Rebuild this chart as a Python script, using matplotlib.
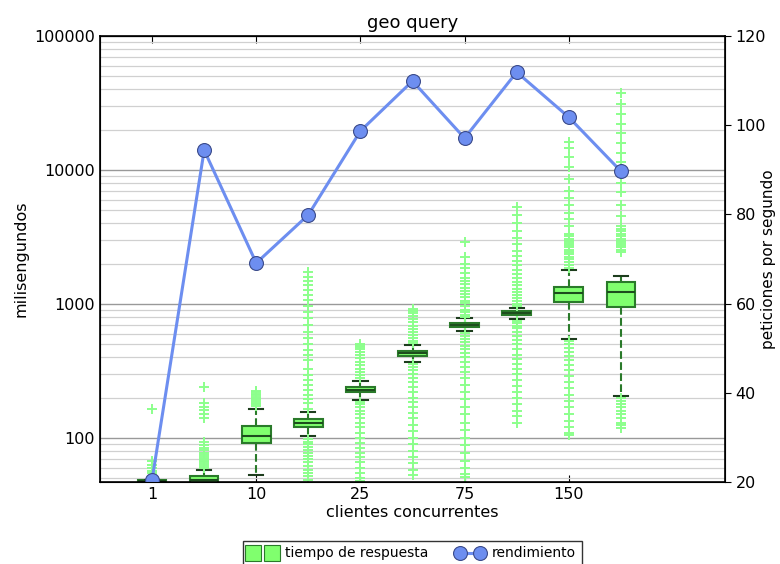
"""geo query: response-time boxplots (log scale) with throughput on a twin axis."""

import matplotlib
matplotlib.use("Agg")
import matplotlib.pyplot as plt
from matplotlib.lines import Line2D

# ── data ──
clients = ["1", "10", "25", "75", "150"]
label_positions = [1, 3, 5, 7, 9]

# box statistics (ms): q1, median, q3, lower whisker, upper whisker
q1 = [46.5, 46, 92, 121.5, 219, 411, 677, 828, 1031, 955]
medians = [47.5, 49, 103.5, 130, 230, 428, 700, 855, 1214, 1236]
q3 = [48.5, 52, 123, 138, 241, 446, 718, 887, 1334, 1466]
whis_lo = [46, 45, 53, 103.5, 192, 369, 629, 769, 546, 207]
whis_hi = [49, 57.7, 164, 157, 266, 494, 781, 937, 1795, 1626]

fliers = [
    [52, 55, 57, 60, 63, 67, 164],
    [60, 62, 64, 66, 68, 70, 72, 75, 78, 81, 85, 89, 93, 140, 150, 162, 170, 182, 240],
    [172, 178, 184, 190, 196, 202, 208, 214, 220, 226],
    [165, 182, 196, 210, 228, 249, 270, 295, 330, 382, 420, 454, 500, 557, 620, 697,
     780, 872, 960, 1069, 1170, 1274, 1380, 1484, 1600, 1742,
     98, 94, 90, 86, 82, 78, 74, 70, 66, 62, 58, 55, 52, 49],
    [280, 295, 310, 330, 350, 370, 395, 420, 440, 460, 475, 490, 505,
     185, 178, 170, 160, 150, 140, 130, 120, 110, 100, 92, 85, 78, 72, 66, 60, 55, 50, 48],
    [510, 530, 560, 590, 620, 650, 690, 730, 770, 810, 850, 890, 920,
     355, 340, 320, 300, 280, 260, 240, 220, 200, 185, 170, 155, 140, 125, 112, 100,
     90, 80, 72, 65, 58, 53],
    [800, 830, 870, 910, 960, 1010, 1060, 1120, 1180, 1250, 1320, 1400, 1480, 1560,
     1700, 1850, 2000, 2250, 2900,
     610, 580, 550, 520, 490, 460, 430, 400, 370, 340, 310, 280, 250, 220, 195, 170,
     150, 130, 115, 100, 88, 78, 68, 60, 54, 51],
    [960, 1000, 1050, 1100, 1160, 1220, 1300, 1380, 1470, 1560, 1680, 1800, 1950, 2100,
     2300, 2500, 2800, 3100, 3500, 4000, 4600, 5300,
     750, 720, 690, 660, 620, 580, 540, 500, 460, 420, 390, 360, 330, 300, 270, 245,
     220, 200, 180, 160, 145, 130],
    [1850, 1950, 2050, 2150, 2250, 2350, 2450, 2550, 2650, 2750, 2850, 2950, 3050, 3200,
     3350, 3800, 4300, 4800, 5500, 6200, 7000, 8500, 10500, 12500, 14500, 16200,
     530, 500, 470, 440, 410, 380, 350, 320, 290, 260, 235, 210, 190, 170, 150, 135,
     120, 110, 105],
    [2450, 2550, 2650, 2750, 2850, 2950, 3050, 3200, 3350, 3500, 3650, 3800, 4500, 5500,
     6800, 8000, 9500, 10000, 11500, 13500, 16000, 19000, 22000, 26000, 31000, 37600,
     200, 190, 180, 170, 160, 150, 140, 130, 125, 119],
]

# requests per second
throughput = [20.5, 94.4, 69.1, 79.9, 98.7, 109.9, 97.1, 111.9, 101.8, 89.7]

BOX_FACE = "#80ff6e"
BOX_EDGE = "#2a7a2a"
FLIER = "#8cff8c"
LINE = "#6d8ef0"

plt.rcParams["font.family"] = "DejaVu Sans"

fig = plt.figure(figsize=(7.8, 5.64), dpi=100)
ax = fig.add_axes([100 / 780, 1 - 482 / 564, 625 / 780, 446 / 564])

stats = []
for i in range(len(medians)):
    stats.append(dict(q1=q1[i], med=medians[i], q3=q3[i],
                      whislo=whis_lo[i], whishi=whis_hi[i], fliers=fliers[i]))
positions = list(range(1, len(medians) + 1))

ax.bxp(
    stats, positions=positions, widths=0.55, patch_artist=True,
    boxprops=dict(facecolor=BOX_FACE, edgecolor=BOX_EDGE, linewidth=1.5),
    medianprops=dict(color="#1d4d1d", linewidth=1.5),
    whiskerprops=dict(color=BOX_EDGE, linestyle="--", linewidth=1.5),
    capprops=dict(color="#1d3d1d", linewidth=1.5),
    flierprops=dict(marker="+", markeredgecolor=FLIER, markersize=7,
                    markeredgewidth=1.4, linestyle="none"),
)

ax.set_yscale("log")
ax.set_ylim(47, 100000)
ax.set_xlim(0, 12)
ax.set_xticks(label_positions)
ax.set_xticklabels(clients)
ax.set_yticks([100, 1000, 10000, 100000])
ax.set_yticklabels(["100", "1000", "10000", "100000"])
ax.yaxis.grid(True, which="major", color="#999999", linewidth=1.0)
ax.yaxis.grid(True, which="minor", color="#d0d0d0", linewidth=0.9)
ax.set_axisbelow(True)
ax.tick_params(axis="x", direction="in", top=True, length=5, labelsize=11.5)
ax.tick_params(axis="y", which="both", direction="in", length=0, labelsize=11.5)
ax.set_xlabel("clientes concurrentes", fontsize=11.5, labelpad=2)
ax.set_ylabel("milisengundos", fontsize=11.5, labelpad=4)
ax.set_title("geo query", fontsize=13, pad=6)
for s in ax.spines.values():
    s.set_linewidth(1.2)

ax2 = ax.twinx()
ax2.plot(positions, throughput, "-o", color=LINE, linewidth=2.2, markersize=10,
         markerfacecolor=LINE, markeredgecolor="#3a4a8a", markeredgewidth=0.8)
ax2.set_ylim(20, 120)
ax2.set_yticks([20, 40, 60, 80, 100, 120])
ax2.tick_params(axis="y", direction="out", length=4, labelsize=11.5)
ax2.set_ylabel("peticiones por segundo", fontsize=11)
ax2.yaxis.set_label_coords(1.058, 0.5)

handles = [
    Line2D([], [], marker="s", linestyle="none", markersize=11,
           markerfacecolor=BOX_FACE, markeredgecolor=BOX_EDGE, markeredgewidth=0.8),
    Line2D([], [], marker="o", color=LINE, linewidth=2.2, markersize=10,
           markerfacecolor=LINE, markeredgecolor="#3a4a8a", markeredgewidth=0.8),
]
leg = ax.legend(handles, ["tiempo de respuesta", "rendimiento"], ncol=2,
                loc="upper center", bbox_to_anchor=(0.5, -0.132), borderaxespad=0,
                numpoints=2, fontsize=10, frameon=True, fancybox=False,
                handlelength=2.0, columnspacing=2.0, handletextpad=0.6)
leg.get_frame().set_edgecolor("black")
leg.get_frame().set_linewidth(1.0)

fig.savefig("out.png", dpi=100)
